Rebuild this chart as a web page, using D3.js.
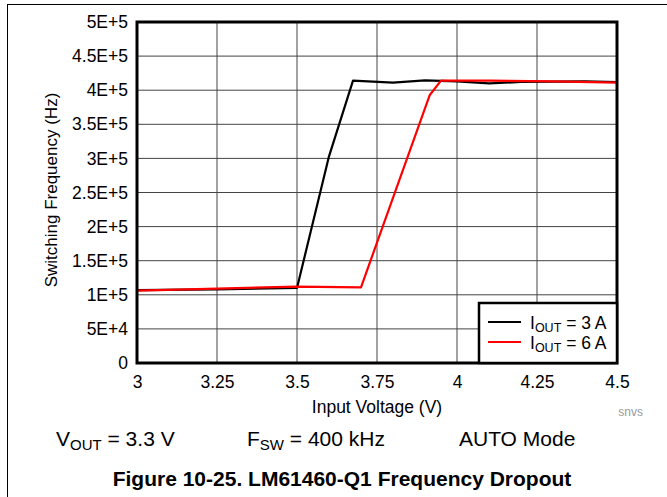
<!DOCTYPE html>
<html><head><meta charset="utf-8">
<script src="https://cdn.jsdelivr.net/npm/d3@7"></script>
<style>body{margin:0;background:#fff;} svg{display:block;font-family:"Liberation Sans",Arial,sans-serif;}</style>
</head><body>
<svg id="c" width="667" height="497"></svg>
<script>
const xTicks = [3, 3.25, 3.5, 3.75, 4, 4.25, 4.5];
const yTicks = [0, 50000, 100000, 150000, 200000, 250000, 300000, 350000, 400000, 450000, 500000];
const yTickLabels = ["0", "5E+4", "1E+5", "1.5E+5", "2E+5", "2.5E+5", "3E+5", "3.5E+5", "4E+5", "4.5E+5", "5E+5"];
const v3A = [3, 3.25, 3.5, 3.6, 3.675, 3.8, 3.9, 4, 4.1, 4.2, 4.3, 4.4, 4.5];
const f3A = [107000, 108000, 110000, 303000, 414000, 411000, 414500, 413000, 410000, 412000, 412500, 413000, 412000];
const v6A = [3, 3.25, 3.5, 3.7, 3.915, 3.95, 4.1, 4.3, 4.5];
const f6A = [106000, 109000, 112000, 111000, 393000, 414000, 414000, 413000, 411000];
const seriesNames = ["3 A", "6 A"];
const seriesColors = ["#000000", "#ff0000"];

const FONT = "'Liberation Sans',Arial,sans-serif";
const svg = d3.select("#c");
const L = 137, R = 617, T = 22, B = 363;
const x = d3.scaleLinear().domain([3, 4.5]).range([L, R]);
const y = d3.scaleLinear().domain([0, 500000]).range([B, T]);

// outer frame
svg.append("line").attr("x1",7.5).attr("x2",7.5).attr("y1",4).attr("y2",497).attr("stroke","#000").attr("stroke-width",1);
svg.append("line").attr("x1",7).attr("x2",667).attr("y1",4.5).attr("y2",4.5).attr("stroke","#000").attr("stroke-width",1);

// grid
const g = svg.append("g");
g.selectAll(".gx").data(xTicks).enter().append("line")
  .attr("x1", d=>x(d)).attr("x2", d=>x(d)).attr("y1", T).attr("y2", B)
  .attr("stroke","#444").attr("stroke-width",1);
g.selectAll(".gy").data(yTicks).enter().append("line")
  .attr("x1", L).attr("x2", R).attr("y1", d=>y(d)).attr("y2", d=>y(d))
  .attr("stroke","#444").attr("stroke-width",1);

// axes labels via d3 axes
const yAxis = d3.axisLeft(y).tickValues(yTicks).tickSize(0).tickPadding(9)
  .tickFormat((d,i)=>yTickLabels[i]);
const ya = svg.append("g").attr("transform",`translate(${L},0)`).call(yAxis);
ya.select(".domain").remove();
ya.selectAll("text").attr("font-size",17.5).attr("fill","#000").attr("font-family",FONT);

const xAxis = d3.axisBottom(x).tickValues(xTicks).tickSize(0).tickPadding(13).tickFormat(d=>String(d));
const xa = svg.append("g").attr("transform",`translate(0,${B})`).call(xAxis);
xa.select(".domain").remove();
xa.selectAll("text").attr("font-size",17.5).attr("fill","#000").attr("font-family",FONT);

// lines
const line = d3.line().x(d=>x(d[0])).y(d=>y(d[1]));
const d3A = v3A.map((v,i)=>[v,f3A[i]]);
const d6A = v6A.map((v,i)=>[v,f6A[i]]);
svg.append("path").datum(d3A).attr("d",line).attr("fill","none").attr("stroke",seriesColors[0]).attr("stroke-width",2.2).attr("stroke-linejoin","round");
svg.append("path").datum(d6A).attr("d",line).attr("fill","none").attr("stroke",seriesColors[1]).attr("stroke-width",2.2).attr("stroke-linejoin","round");

// plot border
svg.append("rect").attr("x",L).attr("y",T).attr("width",R-L).attr("height",B-T)
  .attr("fill","none").attr("stroke","#000").attr("stroke-width",3);

// legend
const lg = svg.append("g");
lg.append("rect").attr("x",479).attr("y",303).attr("width",R-479).attr("height",B-303)
  .attr("fill","#fff").attr("stroke","#000").attr("stroke-width",2.5);
seriesNames.forEach((n,i)=>{
  const yy = 322 + i*20;
  lg.append("line").attr("x1",488).attr("x2",521).attr("y1",yy).attr("y2",yy)
    .attr("stroke",seriesColors[i]).attr("stroke-width",2.2);
  const t = lg.append("text").attr("x",530).attr("y",yy+6.5).attr("font-size",17.5).attr("fill","#000");
  t.append("tspan").text("I");
  t.append("tspan").attr("font-size",12.5).attr("dy",3).text("OUT");
  t.append("tspan").attr("dy",-3).text(" = " + n);
});

// axis titles
svg.append("text").attr("x",377).attr("y",413).attr("text-anchor","middle").attr("font-size",17.5).text("Input Voltage (V)");
svg.append("text").attr("transform","translate(56.5,190) rotate(-90)").attr("text-anchor","middle").attr("font-size",17).text("Switching Frequency (Hz)");
svg.append("text").attr("x",643).attr("y",416).attr("text-anchor","end").attr("font-size",12).attr("fill","#999").text("snvs");

// conditions
function sub(xp, main, s, rest){
  const t = svg.append("text").attr("x",xp).attr("y",446).attr("font-size",21).attr("fill","#000");
  t.append("tspan").text(main);
  t.append("tspan").attr("font-size",15).attr("dy",4).text(s);
  t.append("tspan").attr("dy",-4).text(rest);
}
sub(56, "V", "OUT", " = 3.3 V");
sub(247, "F", "SW", " = 400 kHz");
svg.append("text").attr("x",459).attr("y",446).attr("font-size",21).text("AUTO Mode");
svg.append("text").attr("x",342).attr("y",486).attr("text-anchor","middle").attr("font-size",21).attr("font-weight","bold").text("Figure 10-25. LM61460-Q1 Frequency Dropout");
</script>
</body></html>
